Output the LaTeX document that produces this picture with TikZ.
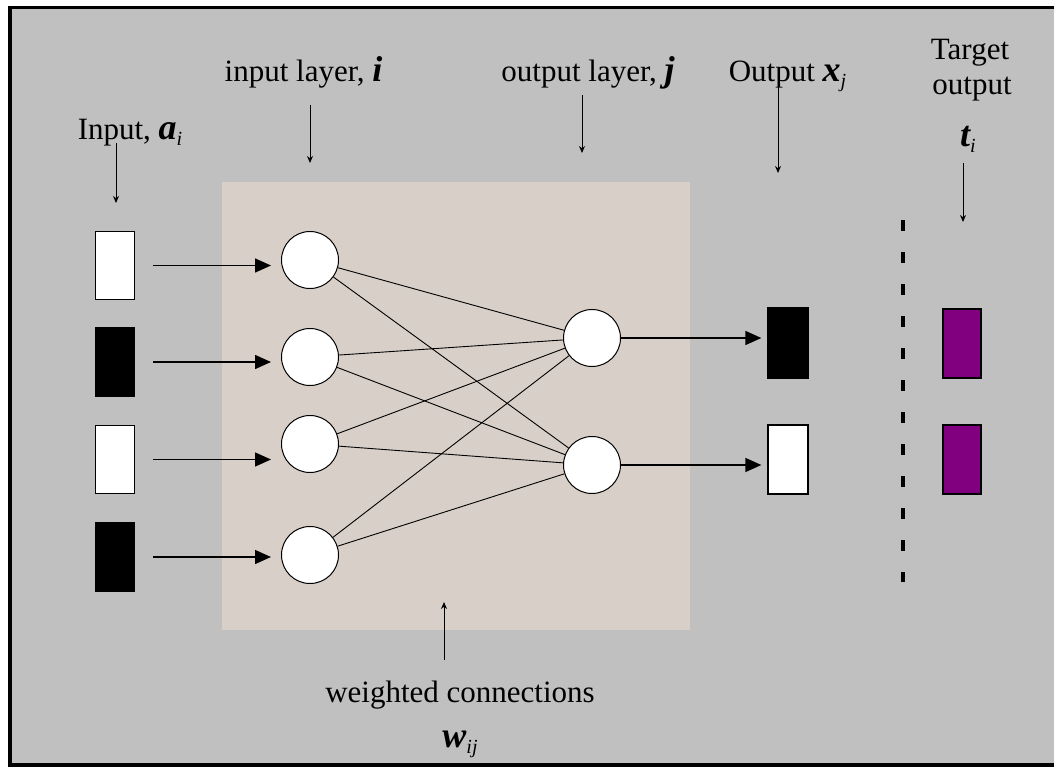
\documentclass[tikz,border=0pt]{standalone}
\usepackage{fontspec}
\setmainfont{Liberation Serif}
\usetikzlibrary{arrows.meta}

\definecolor{panel}{RGB}{192,192,192}
\definecolor{hiddenzone}{RGB}{216,208,200}
\definecolor{targetfill}{RGB}{128,0,128}

% bold italic variable with an italic subscript
\newcommand{\netvar}[2]{{\fontsize{36}{36}\selectfont\bfseries\itshape #1}\raisebox{-6pt}{\fontsize{20}{20}\selectfont\itshape #2}}

\begin{document}
\begin{tikzpicture}[x=1pt,y=-1pt,
  lbl/.style={font=\fontsize{31}{38}\selectfont, inner sep=0pt, anchor=base},
  unit/.style={circle, draw=black, fill=white, line width=1pt, minimum size=57pt, inner sep=0pt},
  patternbox/.style={draw=black, line width=1.3pt, minimum width=39pt, minimum height=68pt, inner sep=0pt},
  feed/.style={line width=1.5pt, -{Triangle[length=16pt,width=14pt]}},
  weight/.style={line width=0.9pt},
  pointer/.style={line width=1pt, -{Stealth[length=7pt,width=6pt]}}]

\useasboundingbox (0,0) rectangle (1054,767);

% panel and frame
\fill[white] (0,0) rectangle (1054,767);
\fill[panel] (9,8) rectangle (1060,764);
\draw[line width=3pt] (9.5,8) -- (1060,8);
\draw[line width=4pt] (9.5,6.5) -- (9.5,767);
\draw[line width=5pt] (7.5,765) -- (1060,765);

% network area
\fill[hiddenzone] (222,182) rectangle (690,630);

% input patterns
\node[patternbox, fill=white] (a1) at (115,265.5) {};
\node[patternbox, fill=black] (a2) at (115,362) {};
\node[patternbox, fill=white] (a3) at (115,459.5) {};
\node[patternbox, fill=black] (a4) at (115,557) {};

% input layer units
\node[unit] (i1) at (310,260) {};
\node[unit] (i2) at (310,357) {};
\node[unit] (i3) at (310,444) {};
\node[unit] (i4) at (310,555) {};

% output layer units
\node[unit] (o1) at (592,338) {};
\node[unit] (o2) at (592,465) {};

% produced outputs
\node[patternbox, fill=black, minimum width=40pt, minimum height=70pt] (x1) at (788,343) {};
\node[patternbox, fill=white, minimum width=40pt, minimum height=69pt] (x2) at (788,459.5) {};

% target outputs
\node[patternbox, fill=targetfill, minimum width=38pt, minimum height=69pt] (t1) at (962,343.5) {};
\node[patternbox, fill=targetfill, minimum width=38pt, minimum height=69pt] (t2) at (962,459.5) {};

% inputs into the input layer
\foreach \k in {1,...,4}
  \draw[feed] ([xshift=18pt]a\k.east) -- ([xshift=-10pt]i\k.west |- a\k.east);

% weighted connections
\foreach \k in {1,...,4}
  \foreach \m in {1,2}
    \draw[weight] (i\k) -- (o\m);

% output layer to outputs
\draw[feed] (o1.east) -- ([xshift=-6pt]x1.west |- o1.east);
\draw[feed] (o2.east) -- ([xshift=-6pt]x2.west |- o2.east);

% separator
\coordinate (d0) at (903,220);
\coordinate (d1) at (903,582);
\draw[line width=4pt, dash pattern=on 11pt off 21pt] (d0) -- (d1);

% labels
\node[lbl] (lin) at (130,140) {Input, \netvar{a}{i}};
\node[lbl] (llayer) at (303.5,82) {input layer, \netvar{i}{}};
\node[lbl] (olayer) at (588,82) {output layer, \netvar{j}{}};
\node[lbl] (lout) at (787.5,82) {Output \netvar{x}{j}};
\node[lbl] (ltarget) at (970,60) {Target};
\node[lbl] (ltarget2) at (972,95) {output};
\node[lbl] (lt) at (968,147) {\netvar{t}{i}};
\node[lbl] (lweight) at (460,702) {weighted connections};
\node[lbl] (lw) at (460,747) {\netvar{w}{ij}};

% label pointers
\coordinate (p1a) at (116,143);  \coordinate (p1b) at (116,203);
\coordinate (p2a) at (310,105);  \coordinate (p2b) at (310,163);
\coordinate (p3a) at (582,95);   \coordinate (p3b) at (582,153);
\coordinate (p4a) at (778,85);   \coordinate (p4b) at (778,173);
\coordinate (p5a) at (963,163);  \coordinate (p5b) at (963,222);
\coordinate (p6a) at (444,660);  \coordinate (p6b) at (444,602);
\draw[pointer] (p1a) -- (p1b);
\draw[pointer] (p2a) -- (p2b);
\draw[pointer] (p3a) -- (p3b);
\draw[pointer] (p4a) -- (p4b);
\draw[pointer] (p5a) -- (p5b);
\draw[pointer] (p6a) -- (p6b);

\end{tikzpicture}
\end{document}
